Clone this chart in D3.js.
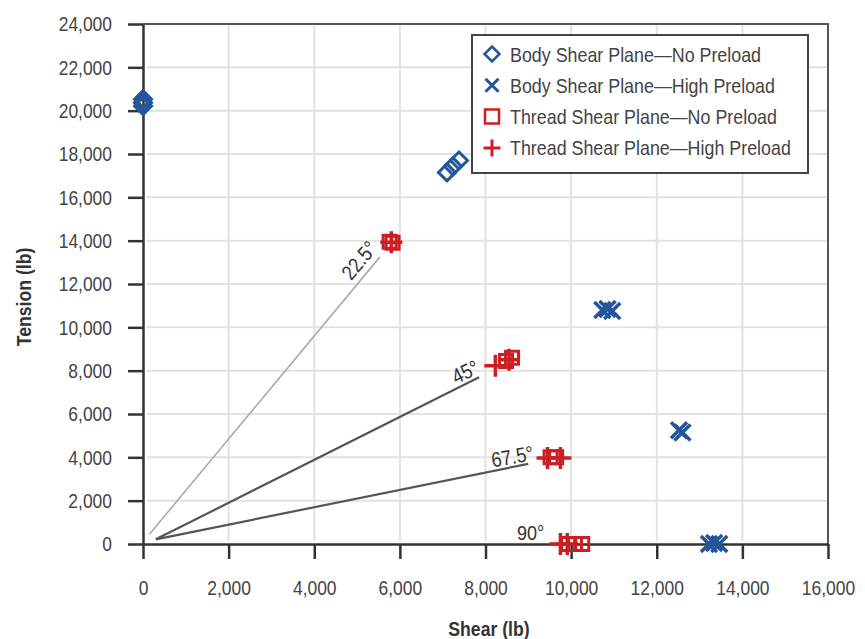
<!DOCTYPE html>
<html>
<head>
<meta charset="utf-8">
<script src="https://cdn.jsdelivr.net/npm/d3@7"></script>
<style>
  body { margin: 0; background: #fff; }
  svg { display: block; font-family: "Liberation Sans", Arial, sans-serif; }
</style>
</head>
<body>
<svg width="865" height="639"></svg>
<script>
// tick values
var shearTicks = [0, 2000, 4000, 6000, 8000, 10000, 12000, 14000, 16000];
var tensionTicks = [0, 2000, 4000, 6000, 8000, 10000, 12000, 14000, 16000, 18000, 20000, 22000, 24000];

// [shear, tension] in lb
var bodyNoPreload = [[0, 20530], [0, 20370], [0, 20210], [7100, 17150], [7240, 17430], [7380, 17700]];
var bodyHighPreload = [[10730, 10800], [10850, 10850], [10960, 10750], [12520, 5250], [12600, 5150],
                       [13220, 0], [13340, 50], [13460, 0]];
var threadNoPreload = [[5760, 13950], [5830, 13900], [8480, 8450], [8620, 8600], [9520, 4000], [9650, 4000],
                       [9930, 0], [10090, 0], [10260, 0]];
var threadHighPreload = [[5800, 13930], [8230, 8230], [8550, 8500], [9450, 3970], [9750, 3970], [9750, 0], [9910, 0]];

var seriesNames = ["Body Shear Plane\u2014No Preload", "Body Shear Plane\u2014High Preload",
                   "Thread Shear Plane\u2014No Preload", "Thread Shear Plane\u2014High Preload"];

// load angle guide lines
var angleNames = ["22.5\u00b0", "45\u00b0", "67.5\u00b0", "90\u00b0"];
var lineStart = [[150, 450], [300, 215], [300, 215]];
var lineEnd = [[5530, 13240], [7850, 7700], [9000, 3700]];
var labelPos = [[5046, 13100], [7525, 7954], [8626, 4046], [9052, 552]];

var svg = d3.select("svg"),
    margin = {top: 24, right: 37, bottom: 95, left: 143},
    width = 865 - margin.left - margin.right,
    height = 639 - margin.top - margin.bottom;

var blue = "#24569a", red = "#cc1f24";

var x = d3.scaleLinear().domain([0, 16000]).range([0, width]),
    y = d3.scaleLinear().domain([0, 24000]).range([height, 0]);

var fmt = d3.format(",");

// squeeze text horizontally, the original type is narrow
function squeeze(sel, k) {
  sel.each(function() {
    var len = this.getComputedTextLength();
    d3.select(this).attr("textLength", len * k).attr("lengthAdjust", "spacingAndGlyphs");
  });
}

var g = svg.append("g")
    .attr("transform", "translate(" + margin.left + "," + margin.top + ")");

// grid
g.append("g").selectAll("line")
    .data(shearTicks.slice(1, -1))
  .enter().append("line")
    .attr("x1", d => x(d)).attr("x2", d => x(d))
    .attr("y1", 0).attr("y2", height - 3)
    .attr("stroke", "#e2e2e2").attr("stroke-width", 2);

g.append("g").selectAll("line")
    .data(tensionTicks.slice(1, -1))
  .enter().append("line")
    .attr("y1", d => y(d)).attr("y2", d => y(d))
    .attr("x1", 4).attr("x2", width)
    .attr("stroke", "#e2e2e2").attr("stroke-width", 2);

// frame top / right
g.append("path")
    .attr("d", "M0," + y(24000) + "H" + x(16000) + "V" + y(0))
    .attr("fill", "none").attr("stroke", "#555").attr("stroke-width", 2);

// axes
var xAxis = d3.axisBottom(x).tickValues(shearTicks).tickSize(15).tickSizeOuter(0).tickPadding(21).tickFormat(fmt),
    yAxis = d3.axisLeft(y).tickValues(tensionTicks).tickSize(15).tickSizeOuter(0).tickPadding(16).tickFormat(fmt);

var xg = g.append("g")
    .attr("transform", "translate(0," + height + ")")
    .call(xAxis);
var yg = g.append("g").call(yAxis);

[xg, yg].forEach(function(a) {
  a.select(".domain").attr("stroke", "#333").attr("stroke-width", 2.5);
  a.selectAll(".tick line").attr("stroke", "#333").attr("stroke-width", 2.5);
  a.selectAll(".tick text")
      .attr("fill", "#444")
      .style("font-size", "21px")
      .style("font-family", "'Liberation Sans', Arial, sans-serif")
      .call(squeeze, 0.83);
});

// axis titles
svg.append("text")
    .attr("x", 489).attr("y", 636)
    .attr("text-anchor", "middle")
    .attr("fill", "#333").style("font-size", "21px").style("font-weight", "bold")
    .text("Shear (lb)")
    .call(squeeze, 0.84);

svg.append("text")
    .attr("transform", "translate(31,297) rotate(-90)")
    .attr("text-anchor", "middle")
    .attr("fill", "#333").style("font-size", "21px").style("font-weight", "bold")
    .text("Tension (lb)")
    .call(squeeze, 0.84);

// angle guide lines
g.append("g").selectAll("line")
    .data(lineStart)
  .enter().append("line")
    .attr("x1", d => x(d[0])).attr("y1", d => y(d[1]))
    .attr("x2", (d, i) => x(lineEnd[i][0])).attr("y2", (d, i) => y(lineEnd[i][1]))
    .attr("stroke", (d, i) => i === 0 ? "#aaa" : "#555")
    .attr("stroke-width", (d, i) => i === 0 ? 1.6 : 2.2);

var labelRotate = [-50, -26, -10, 0];
g.append("g").selectAll("text")
    .data(angleNames)
  .enter().append("text")
    .attr("transform", (d, i) => "translate(" + x(labelPos[i][0]) + "," + y(labelPos[i][1]) + ") rotate(" + labelRotate[i] + ")")
    .attr("text-anchor", "middle")
    .attr("dy", "0.36em")
    .attr("fill", "#333").style("font-size", "21px")
    .text(d => d)
    .call(squeeze, 0.86);

// markers
var shapes = {
  diamond: s => "M0," + (-s) + "L" + s + ",0L0," + s + "L" + (-s) + ",0Z",
  square: s => "M" + (-s) + "," + (-s) + "h" + (2 * s) + "v" + (2 * s) + "h" + (-2 * s) + "Z",
  cross: s => "M" + (-s) + "," + (-s) + "L" + s + "," + s + "M" + (-s) + "," + s + "L" + s + "," + (-s),
  plus: s => "M" + (-s) + ",0H" + s + "M0," + (-s) + "V" + s
};

var series = [
  {data: bodyNoPreload, shape: "diamond", size: 8.5, legendSize: 7.5, color: blue, sw: 3},
  {data: bodyHighPreload, shape: "cross", size: 8, legendSize: 6.5, color: blue, sw: 3.5},
  {data: threadNoPreload, shape: "square", size: 6.5, legendSize: 7, color: red, sw: 3},
  {data: threadHighPreload, shape: "plus", size: 11, legendSize: 8.5, color: red, sw: 3.5}
];

series.forEach(function(s) {
  g.append("g").selectAll("path")
      .data(s.data)
    .enter().append("path")
      .attr("transform", d => "translate(" + x(d[0]) + "," + y(d[1]) + ")")
      .attr("d", shapes[s.shape](s.size))
      .attr("fill", "none")
      .attr("stroke", s.color)
      .attr("stroke-width", s.sw);
});

// legend
var legend = svg.append("g").attr("transform", "translate(472,35)");
legend.append("rect")
    .attr("width", 336).attr("height", 138)
    .attr("fill", "#fff").attr("stroke", "#444").attr("stroke-width", 2);

var row = legend.selectAll("g.row")
    .data(series)
  .enter().append("g")
    .attr("class", "row")
    .attr("transform", (d, i) => "translate(0," + (19 + i * 31.3) + ")");

row.append("path")
    .attr("transform", "translate(20,0)")
    .attr("d", d => shapes[d.shape](d.legendSize))
    .attr("fill", "none")
    .attr("stroke", d => d.color)
    .attr("stroke-width", d => d.shape === "plus" || d.shape === "cross" ? 3 : 2.5);

row.append("text")
    .attr("x", 38).attr("y", 7.5)
    .attr("fill", "#444").style("font-size", "21px")
    .text((d, i) => seriesNames[i])
    .call(squeeze, 0.85);
</script>
</body>
</html>
